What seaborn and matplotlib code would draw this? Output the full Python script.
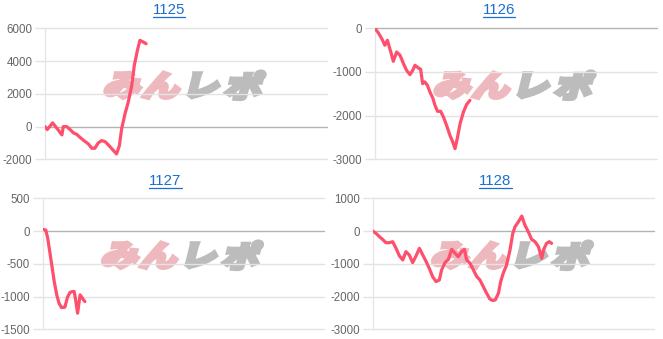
import numpy as np
import pandas as pd
import matplotlib
matplotlib.use("Agg")
import matplotlib.pyplot as plt
import seaborn as sns
from matplotlib.textpath import TextPath
from matplotlib.patches import PathPatch
from matplotlib.font_manager import FontProperties
from matplotlib.transforms import Affine2D, ScaledTranslation
from matplotlib.lines import Line2D

# ---------------- data ----------------
titles = ["1125", "1126", "1127", "1128"]

x1125 = [0, 0.8, 2.7, 4.4, 6.0, 6.5, 7.7, 8.9, 10.1, 11.2, 12.4, 13.8, 15.4, 16.6, 17.7, 18.9,
         20.1, 21.3, 22.5, 24.0, 25.4, 26.4, 27.2, 28.4, 29.6, 30.8, 31.7, 32.8, 33.7, 34.9, 35.9]
y1125 = [0, -184, 224, -143, -510, 0, 0, -184, -388, -469, -653, -857, -1061, -1326, -1326, -1000,
         -857, -918, -1122, -1408, -1673, -1163, -143, 775, 1530, 2509, 3733, 4651, 5263, 5161, 5059]

x1126 = [0, 1.2, 2.4, 3.5, 4.4, 5.6, 6.5, 7.7, 8.9, 10.1, 11.2, 12.4, 13.4, 14.2, 15.4, 16.2, 16.9,
         17.7, 18.6, 19.5, 20.5, 21.3, 22.2, 23.3, 24.3, 25.4, 26.6, 27.6, 28.4, 29.2, 30.2, 31.4,
         32.5, 33.7]
y1126 = [0, -107, -237, -389, -275, -542, -756, -542, -618, -809, -962, -1061, -962, -847, -908,
         -939, -1267, -1229, -1305, -1458, -1595, -1763, -1901, -1901, -2031, -2221, -2450, -2603,
         -2756, -2527, -2183, -1916, -1748, -1649]

x1127 = [0, 1.1, 1.8, 2.6, 3.4, 4.1, 5.0, 5.8, 6.7, 7.9, 8.8, 9.7, 10.5, 11.2, 11.7, 12.4, 13.3,
         13.9, 14.5, 15.0]
y1127 = [25, 15, -112, -340, -569, -772, -975, -1102, -1168, -1162, -1010, -939, -924, -924,
         -1051, -1254, -975, -1010, -1051, -1076]

x1128 = [0, 1.2, 2.4, 3.5, 4.7, 5.9, 7.1, 8.3, 9.5, 10.7, 11.8, 13.0, 14.2, 15.4, 16.6, 17.8,
         19.0, 20.1, 21.3, 22.5, 23.7, 24.5, 25.7, 26.9, 28.1, 29.3, 30.4, 31.6, 32.6, 33.4, 34.6,
         35.8, 37.0, 38.1, 39.3, 40.5, 41.7, 42.7, 43.6, 44.7, 45.5, 46.4, 47.6, 48.8, 49.8, 50.6,
         51.8, 53.0, 54.1, 55.3, 56.5, 57.7, 58.9, 60.1, 60.7, 61.8, 62.8, 63.6]
y1128 = [0, -71, -173, -254, -355, -355, -325, -528, -761, -883, -629, -731, -964, -761, -528,
         -731, -934, -1137, -1391, -1543, -1492, -1188, -964, -863, -558, -680, -782, -629, -558,
         -883, -985, -1188, -1391, -1492, -1695, -1898, -2081, -2121, -2101, -1898, -1543, -1289,
         -1035, -579, -71, 132, 284, 457, 183, -20, -254, -325, -477, -832, -579, -376, -325, -376]

xs_all = [x1125, x1126, x1127, x1128]
ys_all = [y1125, y1126, y1127, y1128]
ylims = [(-2000, 6000), (-3000, 0), (-1500, 500), (-3000, 1000)]
ysteps = [2000, 1000, 500, 1000]
x_max = 100

# ---------------- style ----------------
sns.set_style("white")
plt.rcParams['font.family'] = ['Liberation Sans', 'DejaVu Sans']

LINE = "#fe4f6c"
GRID = "#e3e3e3"
ZERO = "#b3b3b3"
TICKC = "#666666"
TITLEC = "#1a6fd1"
PINK = "#eeb9be"
GREY = "#bcbcbc"

W, H = 663, 339
fig = plt.figure(figsize=(W / 100, H / 100), dpi=100)

boxes_px = [(45, 28.3, 326.7, 159.3), (375, 28.3, 656.7, 159.3),
            (42.7, 198.3, 324, 329.3), (372.7, 198.3, 654, 329.3)]
title_cx = [168.8, 498.7, 165.5, 495.5]
title_base = [14, 14, 185, 185]

fp = FontProperties(family='Noto Sans CJK JP', weight='bold')


def glyph(ax, ch, cx, cy, size_px, color):
    tp = TextPath((0, 0), ch, size=size_px, prop=fp)
    bb = tp.get_extents()
    tr = (Affine2D().translate(-(bb.x0 + bb.x1) / 2, -(bb.y0 + bb.y1) / 2)
          .scale(1.2, 0.95).skew_deg(14, 0)
          + ScaledTranslation(cx, cy, ax.transAxes))
    patch = PathPatch(tp, transform=tr, fc=color, ec=color, lw=3.2,
                      joinstyle='miter', zorder=0.5)
    ax.add_artist(patch)


title_texts = []
for i in range(4):
    l, t, r, b = boxes_px[i]
    ax = fig.add_axes([l / W, 1 - b / H, (r - l) / W, (b - t) / H])
    ax.set_facecolor('white')

    # watermark
    wm = [("み", 0.28, PINK), ("ん", 0.419, PINK), ("レ", 0.568, GREY), ("ポ", 0.71, GREY)]
    for ch, fx, col in wm:
        glyph(ax, ch, fx, 0.565, 31, col)

    df = pd.DataFrame({"x": xs_all[i], "y": ys_all[i]})
    sns.lineplot(data=df, x="x", y="y", ax=ax, color=LINE, lw=2.3, estimator=None,
                 sort=False, zorder=5)

    lo, hi = ylims[i]
    ax.set_xlim(0, x_max)
    ax.set_ylim(lo, hi)
    ticks = np.arange(lo, hi + 1, ysteps[i])
    ax.set_yticks(ticks)
    ax.set_yticklabels([str(int(v)) for v in ticks])
    ax.set_xticks([])
    ax.set_xlabel("")
    ax.set_ylabel("")
    for s in ["top", "right", "bottom"]:
        ax.spines[s].set_visible(False)
    ax.spines["left"].set_color("#e6e6e6")
    ax.spines["left"].set_linewidth(1.0)
    ax.grid(axis="y", color=GRID, lw=1.0)
    ax.grid(axis="x", visible=False)
    ax.tick_params(axis="y", length=7, width=1.0, color=GRID, pad=2,
                   labelsize=8.3, labelcolor=TICKC, left=True)
    for tk, v in zip(ax.yaxis.get_major_ticks(), ticks):
        tk.gridline.set_clip_on(False)
        if v == 0:
            tk.gridline.set_color(ZERO)
            tk.tick1line.set_color(ZERO)

    tt = fig.text(title_cx[i] / W, 1 - title_base[i] / H, titles[i], ha="center",
                  va="baseline", fontsize=10.8, color=TITLEC)
    title_texts.append((tt, title_base[i]))

fig.canvas.draw()
rend = fig.canvas.get_renderer()
for tt, base in title_texts:
    bb = tt.get_window_extent(rend)
    yy = 1 - (base + 2.5) / H
    fig.add_artist(Line2D([bb.x0 / W, bb.x1 / W], [yy, yy], transform=fig.transFigure,
                          color=TITLEC, lw=0.9))

fig.savefig("out.png", dpi=100)
